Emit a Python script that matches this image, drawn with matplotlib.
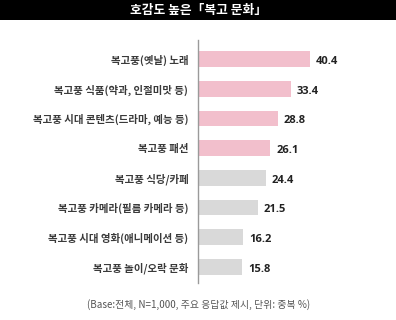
import matplotlib
matplotlib.use('Agg')
import matplotlib.pyplot as plt
from matplotlib.patches import Rectangle

plt.rcParams['font.family'] = ['Noto Sans CJK KR', 'DejaVu Sans']

#
# data
#
labels = ['복고풍(옛날) 노래', '복고풍 식품(약과, 인절미맛 등)', '복고풍 시대 콘텐츠(드라마, 예능 등)',
          '복고풍 패션', '복고풍 식당/카페', '복고풍 카메라(필름 카메라 등)',
          '복고풍 시대 영화(애니메이션 등)', '복고풍 놀이/오락 문화']
values = [40.4, 33.4, 28.8, 26.1, 24.4, 21.5, 16.2, 15.8]
highlight = [True, True, True, True, False, False, False, False]

title = '호감도 높은「복고 문화」'
note = '(Base:전체, N=1,000, 주요 응답값 제시, 단위: 중복 %)'

pink = '#f2bfcc'
grey = '#d9d9d9'

fig = plt.figure(figsize=(3.96, 3.2), dpi=100)

# title bar
fig.patches.append(Rectangle((0, 1 - 20 / 320), 1, 20 / 320, transform=fig.transFigure,
                             facecolor='black', edgecolor='none'))
fig.text(0.5, 1 - 10.5 / 320, title, color='white', fontsize=9.2, fontweight='bold',
         ha='center', va='center')

ax = fig.add_axes([198 / 396, 37 / 320, 138.5 / 396, 243 / 320])
ypos = list(range(len(values)))
colors = [pink if h else grey for h in highlight]
ax.barh(ypos, values, height=0.53, color=colors, edgecolor='none')
ax.set_ylim(len(values) - 0.45, -0.65)
ax.set_xlim(0, 50)

for y, v in zip(ypos, values):
    ax.text(v + 2.2, y + 0.08, '%.1f' % v, fontsize=8, fontweight='bold',
            family='Open Sans', va='center', ha='left', color='#222222')

ax.set_yticks(ypos)
ax.set_yticklabels(labels, fontsize=7.5, color='#3a3a3a', fontweight='bold')
ax.tick_params(axis='y', length=0, pad=7)
ax.set_xticks([])
for s in ['top', 'right', 'bottom']:
    ax.spines[s].set_visible(False)
ax.spines['left'].set_color('#9a9a9a')
ax.spines['left'].set_linewidth(1.0)

fig.text(199 / 396, 1 - 305 / 320, note, fontsize=7.1, color='#555555',
         ha='center', va='center')

fig.savefig('out.png', dpi=100, facecolor='white')
